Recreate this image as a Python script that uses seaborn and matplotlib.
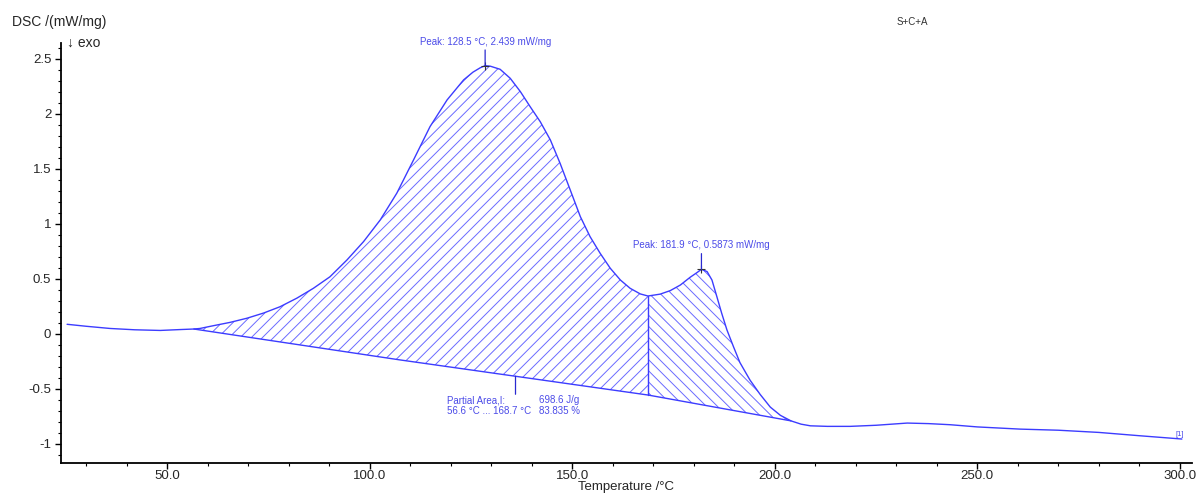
import numpy as np
import matplotlib
matplotlib.use("Agg")
import matplotlib.pyplot as plt
import seaborn as sns
from matplotlib.ticker import MultipleLocator, FormatStrFormatter

# ----------------------------------------------------------------------
# data (S+C+A)
# ----------------------------------------------------------------------
temp = [25.3, 30.0, 35.9, 42.0, 48.3, 53.2, 56.6, 58.1, 61.4, 65.5,
        69.7, 73.8, 77.9, 82.0, 86.1, 90.2, 94.4, 98.5, 102.6, 106.7,
        110.8, 114.9, 119.1, 123.2, 125.5, 127.3, 128.5, 129.8, 132.2, 134.7,
        137.2, 139.6, 142.1, 144.6, 147.0, 149.5, 152.0, 154.4, 156.9, 159.4,
        161.9, 164.3, 166.8, 168.7, 171.7, 174.2, 176.7, 179.1, 180.8, 181.9,
        183.3, 184.5, 185.7, 186.9, 188.2, 189.8, 191.4, 193.9, 196.4, 198.9,
        201.4, 204.0, 206.5, 208.8, 213.0, 218.6, 225.0, 232.7, 238.0, 243.3,
        250.0, 260.6, 270.0, 280.0, 290.0, 300.5]
dsc = [0.088, 0.07, 0.05, 0.038, 0.032, 0.04, 0.045, 0.05, 0.075, 0.105,
       0.143, 0.19, 0.248, 0.325, 0.415, 0.52, 0.673, 0.84, 1.036, 1.28,
       1.58, 1.885, 2.127, 2.31, 2.38, 2.42, 2.439, 2.434, 2.406, 2.324,
       2.203, 2.067, 1.93, 1.764, 1.552, 1.31, 1.067, 0.885, 0.733, 0.597,
       0.49, 0.415, 0.364, 0.345, 0.362, 0.394, 0.445, 0.515, 0.558, 0.5873,
       0.567, 0.49, 0.34, 0.188, 0.036, -0.115, -0.26, -0.42, -0.55, -0.665,
       -0.74, -0.79, -0.82, -0.835, -0.84, -0.84, -0.83, -0.81, -0.815, -0.825,
       -0.845, -0.865, -0.875, -0.895, -0.925, -0.955]

# integration baseline
base_t = [56.6, 107.5, 168.7, 204.0]
base_y = [0.045, -0.236, -0.555, -0.79]

peaks_t = [128.5, 181.9]
peaks_y = [2.439, 0.5873]

split_t = 168.7
area_label_t = 136.0
area_text = ["Partial Area,I:", "56.6 °C ... 168.7 °C"]
area_vals = ["698.6 J/g", "83.835 %"]

BLUE = "#3c3cff"
HATCH = "#6a6aff"
TXT = "#4b4be8"

# ----------------------------------------------------------------------
sns.set_style("ticks")
plt.rcParams["font.family"] = ["Liberation Sans", "DejaVu Sans"]
plt.rcParams["axes.unicode_minus"] = False
plt.rcParams["hatch.linewidth"] = 0.7

fig = plt.figure(figsize=(12, 4.94), dpi=100)
ax = fig.add_axes([61 / 1200, 1 - 463 / 494, (1192 - 61) / 1200, (463 - 43) / 494])

t = np.array(temp)
y = np.array(dsc)

# hatched areas: curve on top, baseline below
left = (t >= base_t[0]) & (t <= split_t)
right = (t >= split_t) & (t <= base_t[-1])
bt = np.array(base_t)
by = np.array(base_y)
bl = (bt >= base_t[0]) & (bt <= split_t)
br = bt >= split_t
poly_l_x = np.concatenate([t[left], bt[bl][::-1]])
poly_l_y = np.concatenate([y[left], by[bl][::-1]])
poly_r_x = np.concatenate([t[right], bt[br][::-1]])
poly_r_y = np.concatenate([y[right], by[br][::-1]])
ax.fill(poly_l_x, poly_l_y, facecolor="none", edgecolor=HATCH, linewidth=0, hatch="///")
ax.fill(poly_r_x, poly_r_y, facecolor="none", edgecolor=HATCH, linewidth=0,
        hatch="\\\\\\")

sns.lineplot(x=temp, y=dsc, ax=ax, color=BLUE, linewidth=1.0)
ax.plot(base_t, base_y, color=BLUE, linewidth=1.0)

# divider between the two partial areas
split_curve = y[t == split_t][0]
split_base = np.interp(split_t, base_t, base_y)
ax.plot([split_t, split_t], [split_base, split_curve], color=BLUE, linewidth=1.0)

# peak labels
for pt, py in zip(peaks_t, peaks_y):
    ax.plot(pt, py, marker="+", color="#333333", markersize=6, mew=0.8)
    ax.annotate(f"Peak: {pt} °C, {py} mW/mg", xy=(pt, py), xytext=(0, 19),
                textcoords="offset pixels", ha="center", va="bottom",
                fontsize=7, color=TXT,
                arrowprops=dict(arrowstyle="-", color="#2a2ad0", lw=0.9,
                                shrinkA=0, shrinkB=0))

# partial area label
ya = np.interp(area_label_t, base_t, base_y)
ax.annotate("", xy=(area_label_t, ya), xytext=(0, -18), textcoords="offset pixels",
            arrowprops=dict(arrowstyle="-", color="#2a2ad0", lw=0.9,
                            shrinkA=0, shrinkB=0))
ax.annotate("\n".join(area_text), xy=(area_label_t, ya), xytext=(-69, -19),
            textcoords="offset pixels", ha="left", va="top", fontsize=7,
            color=TXT, linespacing=1.05)
ax.annotate("\n".join(area_vals), xy=(area_label_t, ya), xytext=(23, -19),
            textcoords="offset pixels", ha="left", va="top", fontsize=7,
            color=TXT, linespacing=1.05)

ax.annotate("[1]", xy=(temp[-1], dsc[-1]), xytext=(-2, 5), textcoords="offset pixels",
            ha="center", va="center", fontsize=5.5, color=TXT)

# axes styling
ax.set_xlim(23.8, 303)
ax.set_ylim(-1.173, 2.645)
ax.xaxis.set_major_locator(MultipleLocator(50))
ax.xaxis.set_minor_locator(MultipleLocator(10))
ax.yaxis.set_major_locator(MultipleLocator(0.5))
ax.yaxis.set_minor_locator(MultipleLocator(0.1))
ax.xaxis.set_major_formatter(FormatStrFormatter("%.1f"))
ax.yaxis.set_major_formatter(FormatStrFormatter("%g"))
ax.tick_params(which="major", direction="out", length=4, width=1, labelsize=9.5,
               pad=3, color="black")
ax.tick_params(axis="x", which="major", pad=1)
ax.tick_params(which="minor", direction="out", length=2.5, width=0.8, color="black")
for s in ["top", "right"]:
    ax.spines[s].set_visible(False)
for s in ["left", "bottom"]:
    ax.spines[s].set_linewidth(1.3)
    ax.spines[s].set_color("black")
ax.set_xlabel("Temperature /°C", fontsize=9.5)
ax.xaxis.label.set_va("center")
ax.xaxis.set_label_coords(0.5, -(487 - 463) / 420)
ax.set_ylabel("")

fig.text(12 / 1200, 1 - 22 / 494, "DSC /(mW/mg)", fontsize=10, va="center", ha="left")
fig.text(67 / 1200, 1 - 43 / 494, "↓ exo", fontsize=10, va="center", ha="left")
fig.text(897 / 1200, 1 - 22 / 494, "S+C+A", fontsize=7, va="center", ha="left",
         color="#333333")

fig.savefig("out.png", dpi=100)
